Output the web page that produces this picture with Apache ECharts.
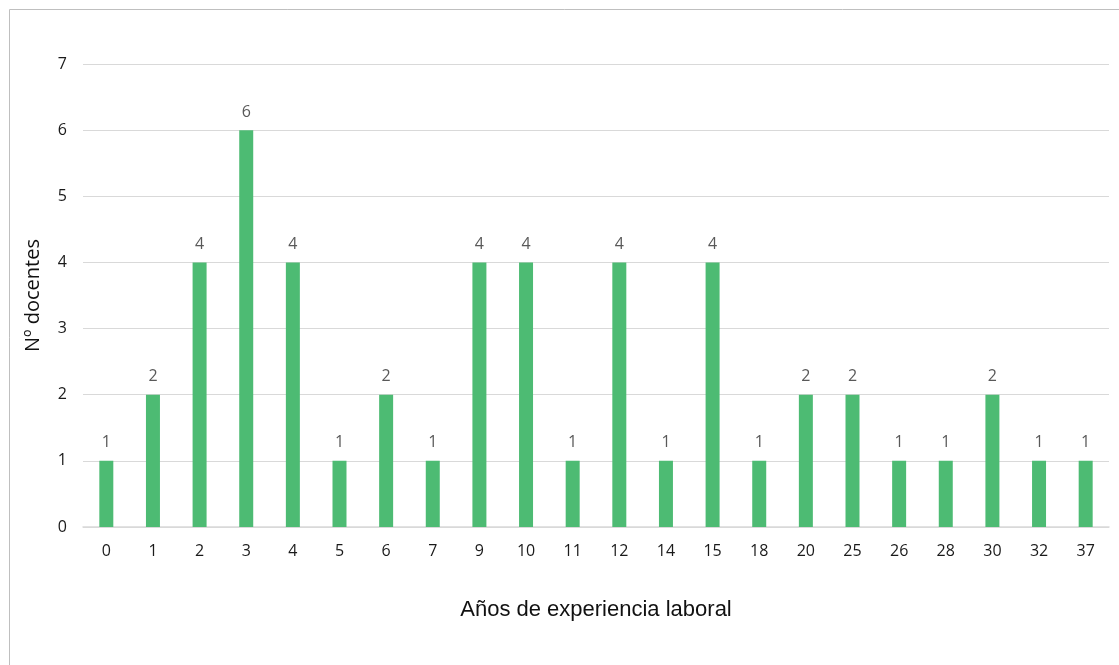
<!DOCTYPE html>
<html><head><meta charset="utf-8">
<script src="https://cdn.jsdelivr.net/npm/echarts@6/dist/echarts.min.js"></script>
<style>html,body{margin:0;padding:0;background:#fff}#c{width:1119px;height:665px}</style>
</head><body><div id="c"></div>
<script>
const categories = ['0','1','2','3','4','5','6','7','9','10','11','12','14','15','18','20','25','26','28','30','32','37'];
const docentes = [1,2,4,6,4,1,2,1,4,4,1,4,1,4,1,2,2,1,1,2,1,1];
const yTicks = [0,1,2,3,4,5,6,7];

const chart = echarts.init(document.getElementById('c'), null, {renderer:'canvas'});
chart.setOption({
  animation:false,
  backgroundColor:'#fff',
  graphic:[{type:'rect',left:7,top:7,shape:{width:1200,height:700},style:{fill:'none',stroke:'#bfbfbf',lineWidth:1}}],
  grid:{left:83,right:10,top:64,bottom:138,containLabel:false},
  xAxis:{
    type:'category',data:categories,
    name:'Años de experiencia laboral',nameLocation:'middle',nameGap:72,
    nameTextStyle:{fontFamily:'Liberation Sans',fontSize:22,color:'#111'},
    axisLine:{lineStyle:{color:'#d9d9d9',width:1.5}},axisTick:{show:false},
    axisLabel:{fontFamily:'Open Sans',fontSize:16,color:'#1a1a1a',margin:16}
  },
  yAxis:{
    type:'value',min:yTicks[0],max:yTicks[yTicks.length-1],interval:1,
    name:'Nº docentes',nameLocation:'middle',nameGap:40,nameRotate:90,
    nameTextStyle:{fontFamily:'Open Sans',fontSize:20,color:'#111'},
    axisLine:{show:false},axisTick:{show:false},
    axisLabel:{fontFamily:'Open Sans',fontSize:16,color:'#1a1a1a',margin:16},
    splitLine:{lineStyle:{color:'#d9d9d9',width:1.2}}
  },
  series:[{
    type:'bar',data:docentes,barWidth:'30%',
    itemStyle:{color:'#4dbb73'},
    label:{show:true,position:'top',distance:10,fontFamily:'Open Sans',fontSize:16,color:'#595959'}
  }]
});
</script></body></html>
